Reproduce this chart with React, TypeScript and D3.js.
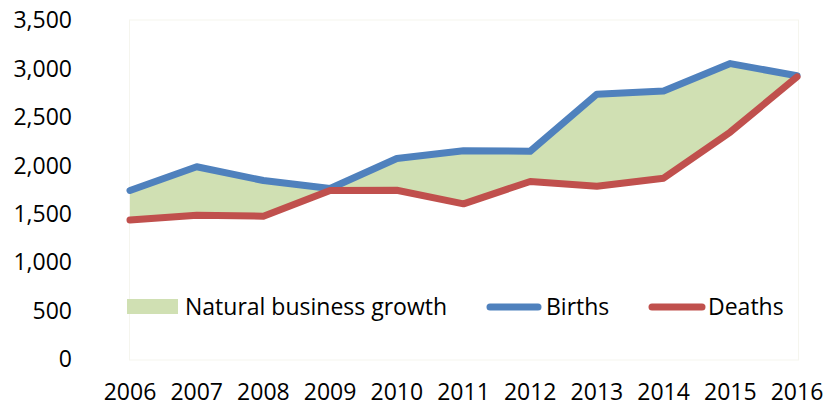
import { FC } from "react";
import * as d3 from "d3";

const WIDTH = 827;
const HEIGHT = 406;
const FONT = "'Open Sans', sans-serif";

const years: string[] = [
  "2006", "2007", "2008", "2009", "2010", "2011",
  "2012", "2013", "2014", "2015", "2016",
];
const births: number[] = [1740, 1985, 1843, 1760, 2070, 2150, 2145, 2734, 2768, 3050, 2925];
const deaths: number[] = [1435, 1485, 1474, 1740, 1742, 1602, 1833, 1784, 1867, 2343, 2913];
const yTicks: number[] = [0, 500, 1000, 1500, 2000, 2500, 3000, 3500];

const COLORS = {
  births: "#4f81bd",
  deaths: "#c0504d",
  growth: "#d0e0b3",
};

interface Row {
  year: string;
  births: number;
  deaths: number;
}

const rows: Row[] = years.map((year, i) => ({ year, births: births[i], deaths: deaths[i] }));

const App: FC = () => {
  const x = d3.scalePoint<string>().domain(years).range([130, 797]);
  const y = d3.scaleLinear().domain([0, 3500]).range([359, 20]);
  const fmt = d3.format(",");

  const area = d3
    .area<Row>()
    .x((d) => x(d.year)!)
    .y0((d) => y(d.deaths))
    .y1((d) => y(d.births));

  const birthLine = d3
    .line<Row>()
    .x((d) => x(d.year)!)
    .y((d) => y(d.births));

  const deathLine = d3
    .line<Row>()
    .x((d) => x(d.year)!)
    .y((d) => y(d.deaths));

  return (
    <svg
      width={WIDTH}
      height={HEIGHT}
      style={{ position: "absolute", left: 0, top: 0, background: "#fff" }}
      fontFamily={FONT}
    >
      {/* plot area border */}
      <rect x={129.5} y={20} width={669} height={340} fill="none" stroke="#f5f5ee" strokeWidth={1} />

      <path d={area(rows)!} fill={COLORS.growth} />
      <path
        d={birthLine(rows)!}
        fill="none"
        stroke={COLORS.births}
        strokeWidth={7}
        strokeLinecap="round"
        strokeLinejoin="round"
      />
      <path
        d={deathLine(rows)!}
        fill="none"
        stroke={COLORS.deaths}
        strokeWidth={7}
        strokeLinecap="round"
        strokeLinejoin="round"
      />

      {/* y axis labels */}
      {yTicks.map((t) => (
        <text key={t} x={72} y={y(t)} dy="0.36em" textAnchor="end" fontSize={23} fill="#000">
          {fmt(t)}
        </text>
      ))}

      {/* x axis labels */}
      {years.map((yr) => (
        <text key={yr} x={x(yr)} y={400} textAnchor="middle" fontSize={23} fill="#000">
          {yr}
        </text>
      ))}

      {/* legend */}
      <g fontSize={23} fill="#000">
        <rect x={127} y={299} width={51} height={15} fill={COLORS.growth} />
        <text x={185} y={307} dy="0.36em">
          Natural business growth
        </text>
        <line x1={490} x2={538} y1={307} y2={307} stroke={COLORS.births} strokeWidth={7} strokeLinecap="round" />
        <text x={546} y={307} dy="0.36em">
          Births
        </text>
        <line x1={652} x2={702} y1={307} y2={307} stroke={COLORS.deaths} strokeWidth={7} strokeLinecap="round" />
        <text x={708} y={307} dy="0.36em">
          Deaths
        </text>
      </g>
    </svg>
  );
};

export default App;
